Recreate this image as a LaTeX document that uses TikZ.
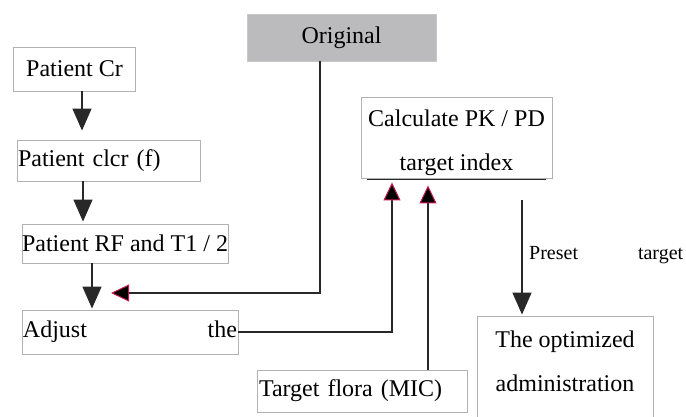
\documentclass[tikz,border=0pt]{standalone}
\usepackage{fontspec}
\setmainfont{Liberation Serif}
\usetikzlibrary{arrows.meta}
\definecolor{boxline}{RGB}{178,178,178}
\definecolor{origfill}{RGB}{187,187,190}
\definecolor{origline}{RGB}{200,200,200}
\definecolor{tipred}{RGB}{200,25,80}
\definecolor{conn}{RGB}{40,40,40}
\begin{document}
\begin{tikzpicture}[x=1pt,y=-1pt,
  box/.style={draw=boxline, line width=0.9pt, fill=white, inner sep=0pt,
    font=\fontsize{24}{44}\selectfont},
  blackarr/.style={draw=conn, line width=1.4pt,
    -{Triangle[length=22pt,width=19pt]}},
  redarr/.style={draw=conn, line width=1.3pt,
    -{Triangle[length=18pt,width=17pt,fill=black,color=tipred,line width=1pt]}},
  plainline/.style={draw=conn, line width=1.3pt}]
\useasboundingbox (0,0) rectangle (686,416);

% boxes
\node[box, minimum width=122pt, minimum height=44pt] (cr) at (74.5,69) {Patient Cr};
\node[box, minimum width=183pt, minimum height=41pt, text width=181pt, align=left] (clcr) at (108.5,160.5) {Patient clcr (f)};
\node[box, minimum width=204pt, minimum height=39pt, align=center] (rf) at (125,243.5) {Patient RF and T1 / 2};
\node[box, minimum width=216pt, minimum height=44pt, text width=214pt] (adj) at (130,332) {Adjust\hfill the};
\node[box, draw=origline, fill=origfill, minimum width=189pt, minimum height=47pt] (orig) at (341.5,37.5) {Original};
\node[box, minimum width=191pt, minimum height=81pt, align=center] (calc) at (456.5,137.5)
  {\rule{0pt}{28pt}Calculate PK / PD\\target index};
\node[box, minimum width=210pt, minimum height=42pt, text width=206pt, align=left] (flora) at (362,391) {Target flora (MIC)};
\node[box, minimum width=176pt, minimum height=110pt, align=center] (opt) at (565,371)
  {\rule{0pt}{28pt}The optimized\\administration\rule[-32pt]{0pt}{32pt}};
\node[font=\fontsize{20}{24}\selectfont, inner sep=0pt, anchor=base west, text width=154pt] (preset) at (529,259) {Preset\hfill target};

% dark line under the calculate box
\draw[plainline] ([xshift=6pt,yshift=-1pt]calc.south west) -- ([xshift=-6pt,yshift=-1pt]calc.south east);

% helper coordinates
\coordinate (xa) at (82,0);
\coordinate (xb) at (83,0);
\coordinate (xc) at (92,0);
\coordinate (bend1) at (320,293);
\coordinate (tip1) at (111,293);
\coordinate (bend2) at (392,332);
\coordinate (xf) at (428,0);
\coordinate (pstart) at (522,200);

% connectors
\draw[blackarr, shorten >=9pt] (cr.south -| xa) -- (clcr.north -| xa);
\draw[blackarr, shorten >=2pt] (clcr.south -| xb) -- (rf.north -| xb);
\draw[blackarr, shorten >=1pt] (rf.south -| xc) -- (adj.north -| xc);
\draw[redarr] (orig.south -| bend1) -- (bend1) -- (tip1);
\draw[redarr, shorten >=4pt] (adj.east) -- (bend2) -- (calc.south -| bend2);
\draw[redarr, shorten >=7pt] (flora.north -| xf) -- (calc.south -| xf);
\draw[blackarr, shorten >=1pt] (pstart) -- (opt.north -| pstart);
\end{tikzpicture}
\end{document}
